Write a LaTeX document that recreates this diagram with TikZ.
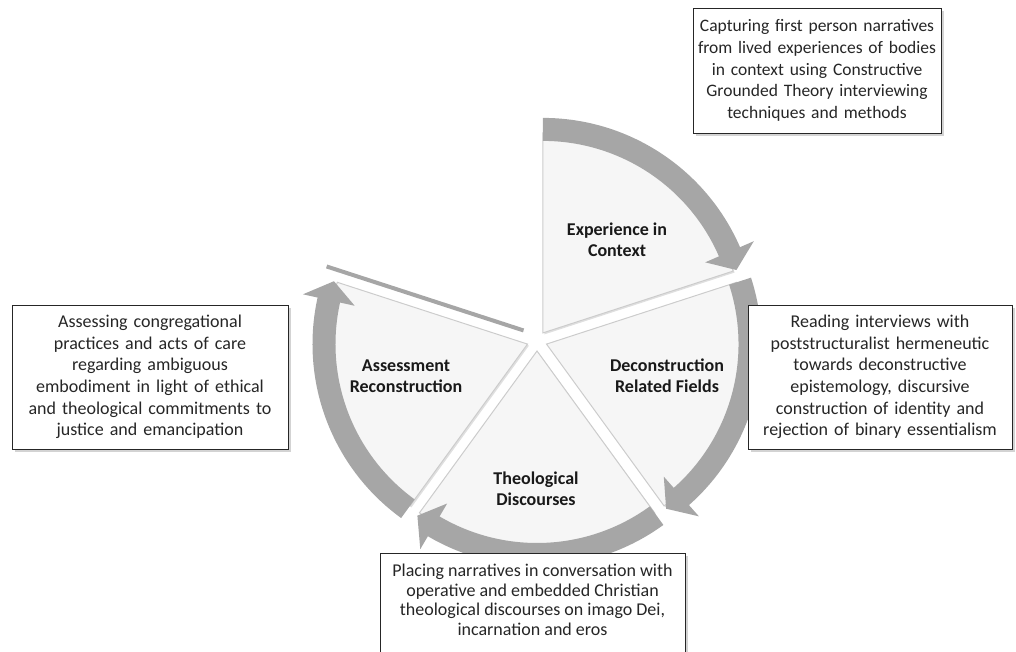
\documentclass[tikz,border=0pt]{standalone}
\usepackage{fontspec}
\setmainfont{Carlito}
\usetikzlibrary{calc,shadows}
\definecolor{bandgray}{RGB}{166,166,166}
\definecolor{segfill}{RGB}{246,246,246}
\newcommand\cyclearrow[3]{%
  \pgfmathsetmacro\headback{#3+5.5}%
  \fill[arr] ($(#1)+(#2:215)$) arc[start angle=#2,end angle=\headback,radius=215]
    -- ($(#1)+(\headback:230)$) -- ($(#1)+(#3:203.5)$) -- ($(#1)+(\headback:177)$)
    -- ($(#1)+(\headback:192)$) arc[start angle=\headback,end angle=#2,radius=192] -- cycle;}
\begin{document}
\begin{tikzpicture}[x=1pt,y=1pt,
  seg/.style={fill=segfill, draw=black!20, line width=1pt,
    drop shadow={shadow xshift=1.5pt,shadow yshift=-1.5pt,opacity=0.25}},
  arr/.style={fill=bandgray},
  lab/.style={font=\fontsize{18}{21}\selectfont\bfseries, align=center, text=black!90},
  box/.style={draw=black!85, line width=0.8pt, fill=white, align=center,
    inner xsep=2pt, inner ysep=0pt, font=\fontsize{18}{21.7}\selectfont, text=black!85,
    drop shadow={shadow xshift=3pt,shadow yshift=-3pt,opacity=0.35}}]
\useasboundingbox (0,0) rectangle (1016,651);
\coordinate (O) at (537,310);
\coordinate (E) at ($(O)+(54:10)$);
\coordinate (D) at ($(O)+(-18:10)$);
\coordinate (T) at ($(O)+(-90:10)$);
\coordinate (A) at ($(O)+(198:10)$);
\coordinate (F) at ($(O)+(126:10)$);
% segments
\filldraw[seg] (E) -- ++(18:200) arc[start angle=18,end angle=90,radius=200] -- cycle;
\filldraw[seg] (D) -- ++(-54:200) arc[start angle=-54,end angle=18,radius=200] -- cycle;
\filldraw[seg] (T) -- ++(-126:200) arc[start angle=-126,end angle=-54,radius=200] -- cycle;
\filldraw[seg] (A) -- ++(162:200) arc[start angle=162,end angle=234,radius=200] -- cycle;
% thin fifth segment
\draw[line width=4pt, black!35, drop shadow={shadow xshift=1pt,shadow yshift=-1.5pt,opacity=0.3}]
  ($(F)+(162:8)$) -- ($(F)+(162:215)$);
% arrows
\cyclearrow{E}{90}{18}
\cyclearrow{D}{18}{-54}
\cyclearrow{T}{-54}{-126}
\cyclearrow{A}{234}{162}
% labels
\node[lab] (lE) at (617,411) {Experience in\\Context};
\node[lab] (lD) at (667,275) {Deconstruction\\Related Fields};
\node[lab] (lT) at (536,162) {Theological\\Discourses};
\node[lab] (lA) at (406,275) {Assessment\\Reconstruction};
% boxes
\node[box, text width=244pt, minimum height=125pt, font=\fontsize{17.5}{21.7}\selectfont] (bE) at (817,580.5)
  {Capturing first person narratives\\from lived experiences of bodies\\in context using Constructive\\Grounded Theory interviewing\\techniques and methods};
\node[box, text width=260pt, minimum height=144pt] (bD) at (880,274)
  {Reading interviews with\\poststructuralist hermeneutic\\towards deconstructive\\epistemology, discursive\\construction of identity and\\rejection of binary essentialism};
\node[box, text width=272pt, minimum height=144pt] (bA) at (150,274)
  {Assessing congregational\\practices and acts of care\\regarding ambiguous\\embodiment  in light of ethical\\and theological commitments  to\\justice and emancipation};
\filldraw[box] (380,98) rectangle (685,-30);
\node[align=center, anchor=north, inner sep=0pt, text=black!85,
  font=\fontsize{18}{19.5}\selectfont] (bT) at (532.5,87)
  {Placing narratives in conversation with\\operative and embedded  Christian\\theological discourses on imago Dei,\\incarnation and eros};
\end{tikzpicture}
\end{document}
